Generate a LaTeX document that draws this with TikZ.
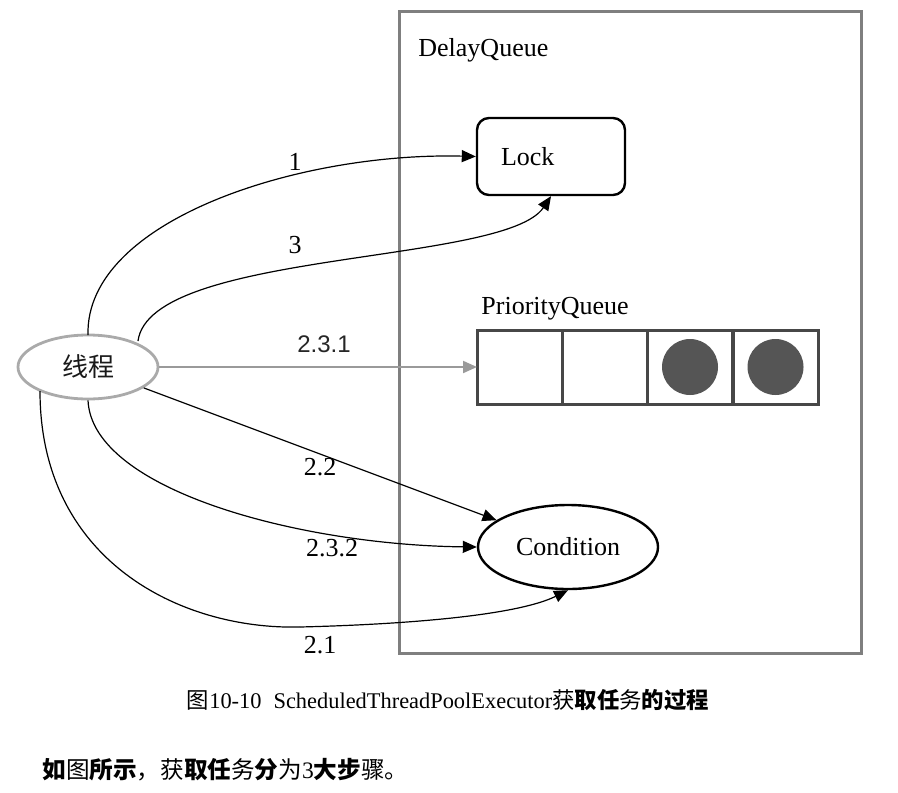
\documentclass[tikz,border=0pt]{standalone}
\usepackage{fontspec}
\setmainfont{Liberation Serif}
\setsansfont{Liberation Sans}
\newfontfamily\cjk{Noto Sans CJK SC}
\usetikzlibrary{arrows.meta,shapes.geometric}
\definecolor{boxgray}{HTML}{7F7F7F}
\definecolor{thrgray}{HTML}{AAAAAA}
\definecolor{qgray}{HTML}{474747}
\definecolor{dotgray}{HTML}{555555}
\definecolor{arrgray}{HTML}{9A9A9A}
\tikzset{
  lbl/.style={font=\fontsize{13}{15}\selectfont, inner sep=0pt},
  conn/.style={draw=black, line width=0.6pt, -{Triangle[length=7pt,width=6pt]}},
  cell/.style={draw=qgray, line width=1.5pt, minimum width=42.5pt, minimum height=37pt, inner sep=0pt, outer sep=0pt},
}
\begin{document}
\begin{tikzpicture}[x=0.5pt,y=-0.5pt]
\useasboundingbox (0,0) rectangle (898,792);
% DelayQueue container
\node[draw=boxgray, line width=1.5pt, minimum width=231pt, minimum height=320.5pt, inner sep=0pt] (dq) at (630,332.5) {};
\node[lbl, anchor=west] (dqt) at (418,50) {DelayQueue};
% Lock
\node[draw=black, line width=1.2pt, rounded corners=6pt, minimum width=74pt, minimum height=38.5pt,
      inner xsep=12pt, text width=50pt, align=left, font=\fontsize{13}{15}\selectfont] (lock) at (551,156.5) {Lock};
% Priority queue
\node[lbl, anchor=west] (pqt) at (481,309) {PriorityQueue};
\node[cell] (c1) at (519.5,367) {};
\node[cell] (c2) at (604.5,367) {};
\node[cell] (c3) at (690,367) {};
\node[cell] (c4) at (775.5,367) {};
\fill[dotgray] (c3.center) circle[radius=14pt];
\fill[dotgray] (c4.center) circle[radius=14pt];
% Condition
\node[draw=black, line width=1.2pt, ellipse, minimum width=90pt, minimum height=42pt, inner sep=0pt,
      font=\fontsize{13}{15}\selectfont] (cond) at (568,547) {Condition};
% Thread
\node[draw=thrgray, line width=1.4pt, ellipse, minimum width=70pt, minimum height=32pt, inner sep=0pt,
      font=\cjk\fontsize{13}{15}\selectfont, text=black!90] (thr) at (88,367) {线程};
% connectors
\coordinate (s1) at (88,335);
\coordinate (s3) at (138,341);
\coordinate (s21) at (40,391);
\coordinate (m21) at (300,627);
\draw[conn] (s1) .. controls (85,220) and (300,152) .. (lock.west);
\draw[conn] (s3) .. controls (150,250) and (505,265) .. (lock.south);
\draw[draw=arrgray, line width=1pt, -{Triangle[length=7pt,width=6pt]}] (thr.east) -- (c1.west);
\draw[conn] (thr) -- (cond);
\draw[conn] (thr.south) .. controls (92,490) and (300,545) .. (cond.west);
\draw[draw=black, line width=0.6pt] (s21) .. controls (40,560) and (180,630) .. (m21);
\draw[conn] (m21) .. controls (420,624) and (520,614) .. (cond.south);
% labels
\node[lbl] (l1) at (295,162) {1};
\node[lbl] (l3) at (295,245) {3};
\node[font=\sffamily\fontsize{12}{14}\selectfont, text=black!85, inner sep=0pt] (l231) at (324,344) {2.3.1};
\node[lbl] (l22) at (320,467) {2.2};
\node[lbl] (l232) at (332,548) {2.3.2};
\node[lbl] (l21) at (320,645) {2.1};
% caption and text
\node[inner sep=0pt, font=\fontsize{11.2}{13}\selectfont] (cap) at (448,700)
  {{\cjk 图}10-10\hspace{6pt}ScheduledThreadPoolExecutor{\cjk 获\textbf{取任}务\textbf{的过程}}};
\node[inner sep=0pt, anchor=west, font=\fontsize{11.8}{13}\selectfont] (txt) at (42,770)
  {{\cjk\textbf{如}图\textbf{所示}，获\textbf{取任}务\textbf{分}为}3{\cjk\textbf{大步}骤。}};
\end{tikzpicture}
\end{document}
